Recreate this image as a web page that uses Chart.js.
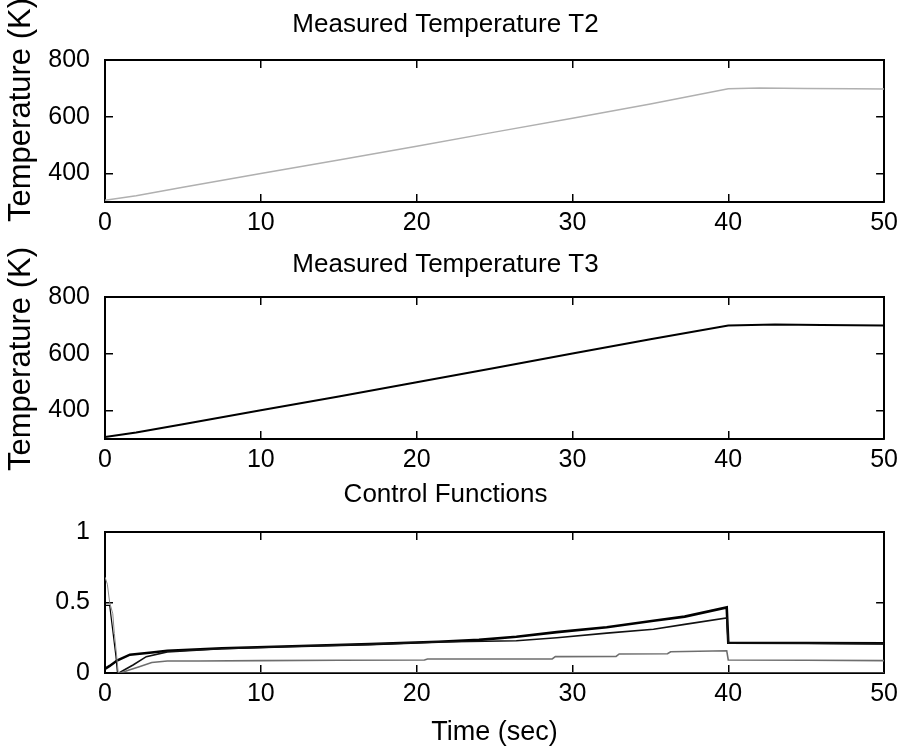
<!DOCTYPE html>
<html>
<head>
<meta charset="utf-8">
<script src="https://cdn.jsdelivr.net/npm/chart.js@4.4.1/dist/chart.umd.min.js"></script>
<style>
html,body{margin:0;padding:0;background:#fff;}
#wrap{position:relative;width:912px;height:750px;background:#fff;overflow:hidden;}
.pane{position:absolute;left:0;width:912px;}
</style>
</head>
<body>
<div id="wrap">
  <div class="pane" style="top:460px;height:290px"><canvas id="c3"></canvas></div>
  <div class="pane" style="top:235px;height:250px"><canvas id="c2"></canvas></div>
  <div class="pane" style="top:0px;height:245px"><canvas id="c1"></canvas></div>
</div>
<script>
// ---------- data ----------
const xTicks = [0, 10, 20, 30, 40, 50];
const tempTicks = [400, 600, 800];
const ctrlTicks = [0, 0.5, 1];
const ctrlTickLabels = ['0', '0.5', '1'];

const titleT2 = 'Measured Temperature T2';
const titleT3 = 'Measured Temperature T3';
const titleCtrl = 'Control Functions';
const yLabelTemp = 'Temperature (K)';
const xLabelTime = 'Time (sec)';

const t2Time = [0, 2, 5, 10, 15, 20, 25, 30, 35, 40, 42, 45, 48, 50];
const t2Temp = [306, 322, 352, 400, 448, 496, 546, 595, 645, 699, 701, 700, 699, 698];

const t3Time = [0, 2, 5, 10, 15, 20, 25, 30, 35, 40, 43, 46, 50];
const t3Temp = [307, 323, 352, 401, 450, 500, 550, 601, 651, 700, 703, 701, 700];

const u1Time = [0, 0.3, 0.8, 1.6, 3, 4, 7.5, 12, 17, 21.4, 24, 26.4, 29, 32.2, 35.2, 37.2, 39.9, 40, 45, 50];
const u1Val  = [0.03, 0.05, 0.09, 0.13, 0.145, 0.158, 0.175, 0.19, 0.205, 0.222, 0.235, 0.257, 0.29, 0.325, 0.37, 0.40, 0.465, 0.215, 0.213, 0.21];

const u2Time = [0.9, 1.2, 1.8, 2.65, 4, 7.5, 12, 17, 21.4, 26.4, 29, 32.2, 35.2, 37.2, 39.9, 40, 45, 50];
const u2Val  = [0, 0.02, 0.057, 0.116, 0.15, 0.172, 0.188, 0.203, 0.22, 0.229, 0.25, 0.283, 0.31, 0.345, 0.39, 0.213, 0.211, 0.208];

const u3Time = [1.0, 1.5, 2.2, 3, 4, 6, 10, 15, 20.5, 20.7, 28.7, 28.9, 32.8, 33, 36.1, 36.3, 39.9, 40, 45, 50];
const u3Val  = [0, 0.02, 0.045, 0.075, 0.085, 0.085, 0.088, 0.09, 0.092, 0.099, 0.1, 0.116, 0.118, 0.135, 0.137, 0.151, 0.158, 0.092, 0.09, 0.088];

const u4Time = [0, 0.15, 0.3, 0.5, 0.6, 0.75, 0.85, 50];
const u4Val  = [0.68, 0.63, 0.5, 0.42, 0.28, 0.12, 0, 0];

const u5Time = [0, 0, 0.3, 0.5, 0.7, 0.8, 50];
const u5Val  = [0, 0.48, 0.48, 0.3, 0.12, 0, 0];

// ---------- helpers ----------
const FONT = "'Liberation Sans', Arial, Helvetica, sans-serif";
Chart.defaults.font.family = FONT;
Chart.defaults.color = '#000';

function pts(xs, ys) { return xs.map((x, i) => ({x: x, y: ys[i]})); }
function setTicks(vals) { return function(scale) { scale.ticks = vals.map(v => ({value: v})); }; }
function fixW(w) { return function(scale) { scale.width = w; }; }
function fixH(h) { return function(scale) { scale.height = h; }; }

// moves the left axis title along the axis (MATLAB-like placement)
const yTitleShift = {
  id: 'yTitleShift',
  beforeDraw(chart, args, opts) {
    const s = chart.scales.y;
    const d = (opts && opts.dy) || 0;
    if (!s || s._shiftWrapped || !d) return;
    const orig = s.drawTitle.bind(s);
    s.drawTitle = function() {
      this.top += d; this.bottom += d;
      try { orig(); } finally { this.top -= d; this.bottom -= d; }
    };
    s._shiftWrapped = true;
  }
};

const gridIn = {display: true, drawOnChartArea: false, drawTicks: true, tickLength: -8, color: '#000', lineWidth: 1.5};
const borderBox = {display: true, color: '#000', width: 2};

function makePanel(id, o) {
  const scales = {
    x: {
      type: 'linear', position: 'bottom', min: 0, max: 50,
      afterBuildTicks: setTicks(xTicks), afterFit: fixH(o.xh),
      grid: gridIn, border: borderBox,
      ticks: {color: '#000', font: {size: 25}, padding: 14, maxRotation: 0, autoSkip: false},
      title: o.xTitle ? {display: true, text: o.xTitle, color: '#000', font: {size: 27}, padding: {top: 0, bottom: 1}} : {display: false}
    },
    x2: {
      type: 'linear', position: 'top', min: 0, max: 50,
      afterBuildTicks: setTicks(xTicks), afterFit: fixH(0),
      grid: gridIn, border: borderBox, ticks: {display: false}
    },
    y: {
      type: 'linear', position: 'left', min: o.ymin, max: o.ymax,
      afterBuildTicks: setTicks(o.yTicks), afterFit: fixW(105),
      grid: gridIn, border: borderBox,
      ticks: {color: '#000', font: {size: 25}, padding: 23, autoSkip: false,
        callback: o.yLabels ? function(v) { const i = o.yTicks.indexOf(v); return i >= 0 ? o.yLabels[i] : ''; } : undefined},
      title: o.yTitle ? {display: true, text: o.yTitle, color: '#000', font: {size: 31}, padding: {top: 3, bottom: 0}} : {display: false}
    },
    y2: {
      type: 'linear', position: 'right', min: o.ymin, max: o.ymax,
      afterBuildTicks: setTicks(o.yTicks), afterFit: fixW(0),
      grid: gridIn, border: borderBox, ticks: {display: false}
    }
  };
  return new Chart(document.getElementById(id), {
    type: 'line',
    data: {datasets: o.datasets},
    plugins: [yTitleShift],
    options: {
      responsive: true, maintainAspectRatio: false, animation: false, devicePixelRatio: 1,
      layout: {padding: {left: 0, right: 21, top: 0, bottom: 0}},
      elements: {point: {radius: 0}, line: {tension: 0}},
      plugins: {
        legend: {display: false}, tooltip: {enabled: false},
        yTitleShift: {dy: o.yShift || 0},
        title: {display: true, text: o.title, color: '#000', font: {size: 26, weight: 'normal'}, padding: {top: o.tpTop, bottom: o.tpBot}}
      },
      scales: scales
    }
  });
}

function ds(label, xs, ys, color, w) {
  return {label: label, data: pts(xs, ys), borderColor: color, borderWidth: w, fill: false, pointRadius: 0};
}

makePanel('c1', {
  title: titleT2, tpTop: 9.4, tpBot: 19.4, xh: 43,
  ymin: 300, ymax: 800, yTicks: tempTicks, yTitle: yLabelTemp, yShift: -21,
  datasets: [ds('T2', t2Time, t2Temp, '#b0b0b0', 1.5)]
});
makePanel('c2', {
  title: titleT3, tpTop: 14.4, tpBot: 16.4, xh: 46,
  ymin: 300, ymax: 800, yTicks: tempTicks, yTitle: yLabelTemp, yShift: -9,
  datasets: [ds('T3', t3Time, t3Temp, '#000', 2)]
});
makePanel('c3', {
  title: titleCtrl, tpTop: 19.4, tpBot: 21.4, xh: 77, xTitle: xLabelTime,
  ymin: 0, ymax: 1, yTicks: ctrlTicks, yLabels: ctrlTickLabels,
  datasets: [
    ds('u4', u4Time, u4Val, '#8a8a8a', 1),
    ds('u5', u5Time, u5Val, '#000', 1.2),
    ds('u3', u3Time, u3Val, '#6e6e6e', 1.6),
    ds('u2', u2Time, u2Val, '#111', 1.6),
    ds('u1', u1Time, u1Val, '#000', 2.6)
  ]
});
</script>
</body>
</html>
